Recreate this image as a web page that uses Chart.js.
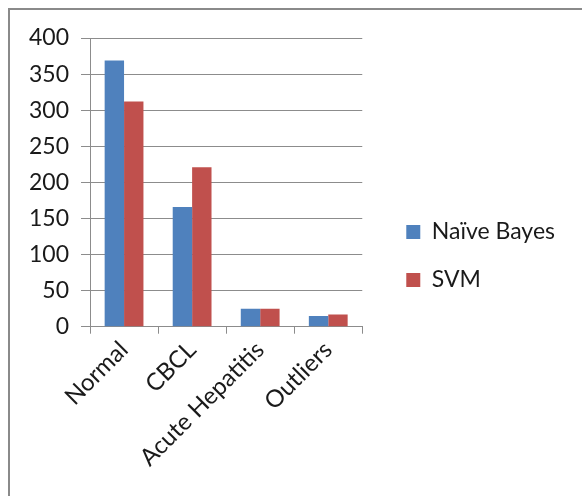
<!DOCTYPE html>
<html>
<head>
<meta charset="utf-8">
<script src="https://cdn.jsdelivr.net/npm/chart.js@4/dist/chart.umd.min.js"></script>
<style>
  html, body { margin: 0; padding: 0; background: #fff; overflow: hidden; }
  #frame {
    position: absolute; left: 8px; top: 8px; width: 600px; height: 520px;
    border-left: 2px solid #8a8a8a; border-top: 2px solid #8a8a8a;
  }
  #wrap { position: absolute; left: 0; top: 0; width: 582px; height: 496px; }
</style>
</head>
<body>
<div id="frame"></div>
<div id="wrap"><canvas id="chart" width="582" height="496"></canvas></div>
<script>
// === Chart data ===
const categories = ["Normal", "CBCL", "Acute Hepatitis", "Outliers"];
const naiveBayes = [369, 166, 25, 15];
const svm = [312, 221, 25, 17];
const yTicks = [0, 50, 100, 150, 200, 250, 300, 350, 400];

const font = { family: "Lato", size: 23 };
const textColor = "#1a1a1a";
const gridColor = "#8c8c8c";

const ctx = document.getElementById("chart").getContext("2d");
new Chart(ctx, {
    type: "bar",
    data: {
        labels: categories,
        datasets: [
            { label: "Naïve Bayes", data: naiveBayes, backgroundColor: "#4F81BD" },
            { label: "SVM", data: svm, backgroundColor: "#C0504D" }
        ]
    },
    options: {
        responsive: false,
        animation: false,
        categoryPercentage: 0.57,
        barPercentage: 1,
        layout: { padding: { left: 17, top: 38, right: 17, bottom: 22 } },
        plugins: {
            tooltip: { enabled: false },
            legend: {
                position: "right",
                align: "center",
                maxWidth: 240,
                labels: { boxWidth: 14, boxHeight: 14, padding: 25, font: font, color: textColor }
            }
        },
        scales: {
            x: {
                grid: { drawOnChartArea: false, color: gridColor, tickLength: 7 },
                border: { color: gridColor },
                ticks: { font: { family: "Lato", size: 24 }, color: textColor, minRotation: 45, maxRotation: 45, padding: 2 }
            },
            y: {
                min: 0,
                max: yTicks[yTicks.length - 1],
                afterBuildTicks: scale => { scale.ticks = yTicks.map(v => ({ value: v })); },
                grid: { color: gridColor, tickLength: 9 },
                border: { color: gridColor },
                ticks: { font: font, color: textColor, padding: 12 }
            },
            // spacer between plot and legend
            gap: {
                type: "linear",
                position: "right",
                grid: { display: false },
                border: { display: false },
                ticks: { display: false },
                afterFit: scale => { scale.width = 19; }
            }
        }
    }
});
</script>
</body>
</html>
